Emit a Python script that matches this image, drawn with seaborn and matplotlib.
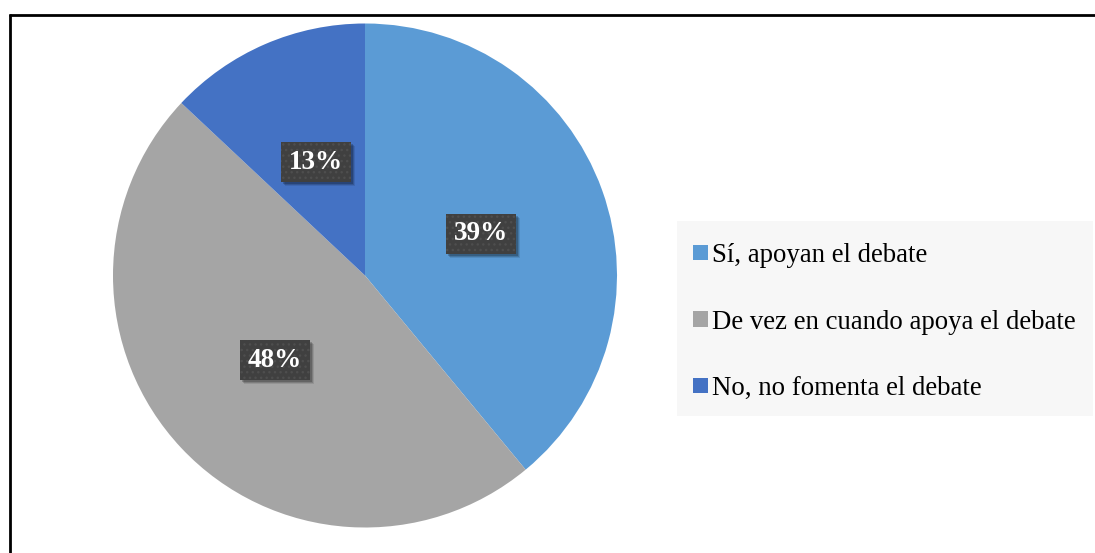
import matplotlib
matplotlib.use("Agg")
import matplotlib.pyplot as plt
import seaborn as sns
from matplotlib.patches import Rectangle
from matplotlib.lines import Line2D
from matplotlib.transforms import IdentityTransform

categories = ["Sí, apoyan el debate", "De vez en cuando apoya el debate", "No, no fomenta el debate"]
values = [39, 48, 13]
colors = ["#5B9BD5", "#A5A5A5", "#4472C4"]

sns.set_theme(style="white")
plt.rcParams['font.family'] = ['Liberation Serif', 'DejaVu Serif']

W, H = 1095, 553
fig = plt.figure(figsize=(W / 100, H / 100), dpi=100)
fig.patch.set_facecolor("white")

cx, cy, r = 365, 275.5, 252
ax = fig.add_axes([(cx - r) / W, (H - cy - r) / H, 2 * r / W, 2 * r / H])
wedges, texts, autotexts = ax.pie(values, colors=colors, startangle=90, counterclock=False,
                                  autopct=lambda p: f"{p:.0f}%", pctdistance=0.49,
                                  wedgeprops=dict(linewidth=0))
ax.set_xlim(-1, 1)
ax.set_ylim(-1, 1)
ax.set_aspect("equal")
ax.axis("off")

for t in autotexts:
    t.set_fontsize(19.5)
    t.set_fontweight("bold")
    t.set_color("white")
    t.set_zorder(5)
    t.set_bbox(dict(boxstyle="square,pad=0.28", facecolor="#404040", edgecolor="#4E4E4E",
                    linewidth=0, hatch="..."))

# legend background
fig.patches.append(Rectangle((677 / W, 1 - 416 / H), (1093 - 677) / W, (416 - 221) / H,
                             transform=fig.transFigure, facecolor="#F7F7F7", edgecolor="none", zorder=0))

leg = fig.legend(wedges, categories, loc="upper left", bbox_to_anchor=(693 / W, 1 - 243 / H),
                 frameon=False, fontsize=19.3, labelspacing=1.55, handlelength=0.57, handleheight=0.5,
                 handletextpad=0.15, borderpad=0, borderaxespad=0)
for txt in leg.get_texts():
    txt.set_color("black")

# border lines (top and left)
fig.lines.append(Line2D([9 / W, 1], [1 - 14.5 / H, 1 - 14.5 / H], transform=fig.transFigure,
                        color="black", linewidth=2, solid_capstyle="butt"))
fig.lines.append(Line2D([9.5 / W, 9.5 / W], [0, 1 - 14 / H], transform=fig.transFigure,
                        color="black", linewidth=2, solid_capstyle="butt"))

# soft shadows behind label boxes
fig.canvas.draw()
for t in autotexts:
    bb = t.get_bbox_patch().get_window_extent()
    for k, a in ((4, 0.10), (3, 0.15), (2, 0.2)):
        sh = Rectangle((bb.x0 + k, bb.y0 - k), bb.width, bb.height, transform=IdentityTransform(),
                       facecolor="black", edgecolor="none", alpha=a, zorder=4)
        ax.add_artist(sh)

fig.savefig("out.png", dpi=100)
